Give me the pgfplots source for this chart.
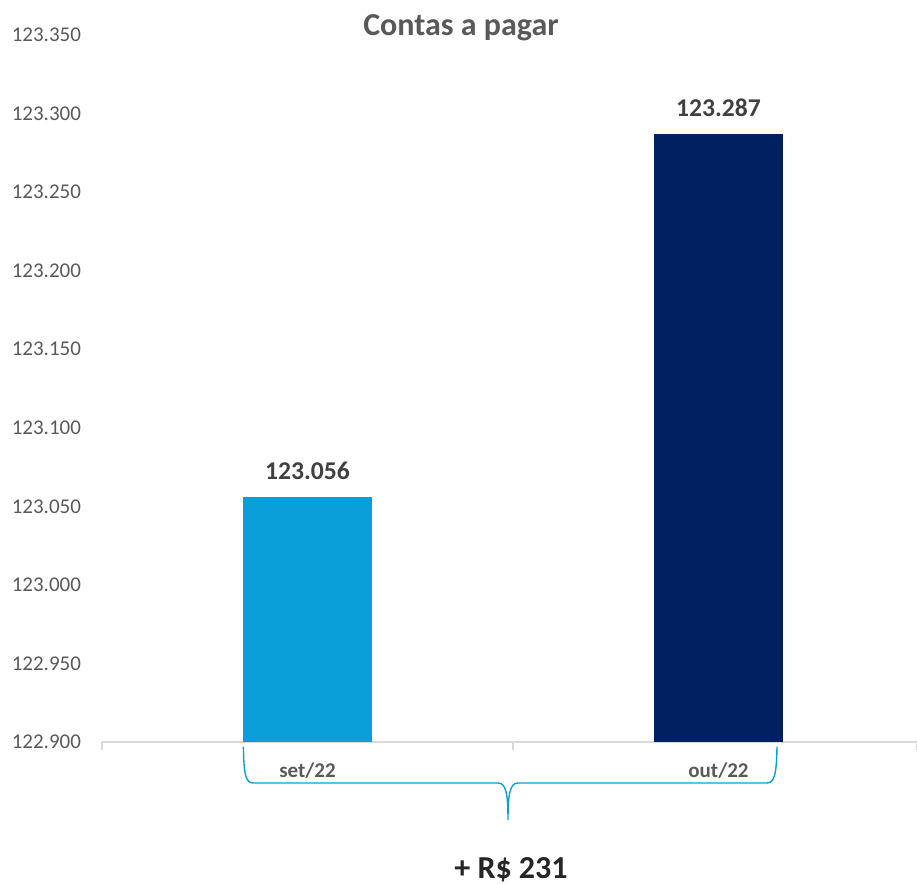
\documentclass[border=0pt]{standalone}
\usepackage{fontspec}
\setmainfont{Carlito}
\usepackage{pgfplots}
\pgfplotsset{compat=1.18}

\definecolor{lightbar}{HTML}{0A9FD8}
\definecolor{darkbar}{HTML}{002060}
\definecolor{txtgray}{HTML}{595959}
\definecolor{lblgray}{HTML}{404040}
\definecolor{axgray}{HTML}{D9D9D9}

\begin{document}
\begin{tikzpicture}
% page frame, 917x884 px at 0.5pt per px
\path[use as bounding box] (-51pt,-71pt) rectangle (407.5pt,371pt);
\begin{axis}[
    at={(0,0)}, anchor=south west,
    scale only axis,
    width=407.5pt, height=353.5pt,
    xmin=-0.5, xmax=1.483,
    ymin=122900, ymax=123350,
    ytick distance=50,
    scaled y ticks=false,
    axis x line*=bottom,
    axis y line*=left,
    x axis line style={draw=axgray, line width=0.6pt, -},
    y axis line style={draw=none},
    tick style={draw=axgray, line width=0.6pt},
    major tick length=0pt,
    xtick={0,1},
    xticklabels={set/22,out/22},
    extra x ticks={-0.5,0.5,1.483},
    extra x tick labels={},
    extra x tick style={major tick length=4pt},
    tick align=outside,
    xticklabel style={font=\fontsize{10.5}{12}\selectfont\bfseries, text=txtgray, yshift=-7pt},
    yticklabel style={font=\fontsize{10.5}{12}\selectfont, text=txtgray, xshift=-7pt},
    /pgf/number format/.cd, fixed, precision=0, 1000 sep={.}, assume math mode=true,
    /pgfplots/.cd,
    ybar, bar width=64.5pt,
    nodes near coords,
    nodes near coords style={font=\fontsize{12.8}{14}\selectfont\bfseries, text=lblgray, yshift=5pt},
    clip=false,
]
\addplot[bar shift=0pt, fill=lightbar, draw=none] coordinates {(0,123056)};
\addplot[bar shift=0pt, fill=darkbar, draw=none] coordinates {(1,123287)};
\end{axis}
\node[font=\fontsize{16}{19}\selectfont\bfseries, text=txtgray] at (179.5pt,357pt) {Contas a pagar};
\draw[lightbar, line width=0.7pt]
  (70.7pt,-2.3pt) .. controls (70.9pt,-16pt) and (71.8pt,-20.5pt) .. (75.5pt,-20.5pt)
  -- (198pt,-20.5pt) .. controls (202pt,-20.5pt) and (203pt,-26pt) .. (203pt,-39pt)
  .. controls (203pt,-26pt) and (204pt,-20.5pt) .. (208pt,-20.5pt)
  -- (332.5pt,-20.5pt) .. controls (336.2pt,-20.5pt) and (337.3pt,-16pt) .. (337.5pt,-2.3pt);
\node[font=\fontsize{16}{19}\selectfont\bfseries, text=black!85] at (204.5pt,-64pt) {+ R\$ 231};
\end{tikzpicture}
\end{document}
